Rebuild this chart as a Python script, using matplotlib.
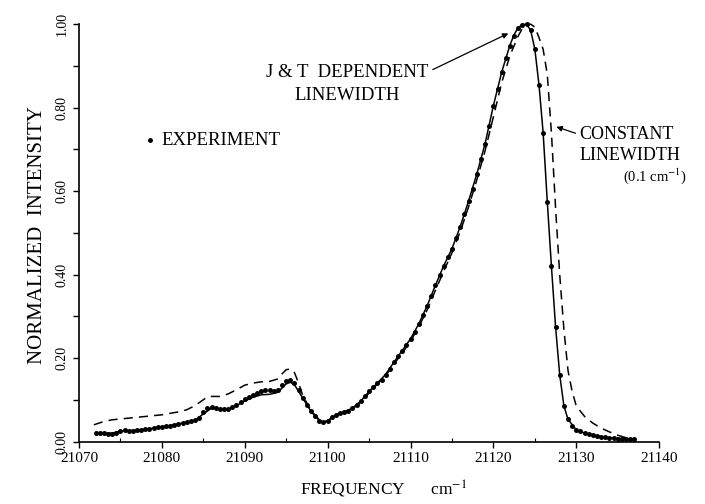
import numpy as np
import matplotlib
matplotlib.use("Agg")
import matplotlib.pyplot as plt
from matplotlib.ticker import MultipleLocator

plt.rcParams['font.family'] = ['Liberation Serif', 'DejaVu Serif']
plt.rcParams['mathtext.fontset'] = 'stix'

# --------------------
# data
# --------------------
# experiment, sampled every 0.5 cm-1
exp_freq = np.arange(21072.0, 21137.5, 0.5)
exp_int = [
    0.020, 0.020, 0.020, 0.019, 0.019, 0.021, 0.026, 0.027, 0.026, 0.026,
    0.027, 0.028, 0.029, 0.031, 0.032, 0.034, 0.035, 0.036, 0.037, 0.040,
    0.042, 0.044, 0.046, 0.049, 0.051, 0.056, 0.070, 0.081, 0.082, 0.080,
    0.079, 0.077, 0.078, 0.082, 0.088, 0.094, 0.101, 0.107, 0.112, 0.117,
    0.121, 0.124, 0.123, 0.121, 0.124, 0.136, 0.146, 0.148, 0.140, 0.124,
    0.104, 0.087, 0.072, 0.060, 0.050, 0.046, 0.049, 0.058, 0.064, 0.068,
    0.071, 0.074, 0.080, 0.088, 0.097, 0.108, 0.120, 0.131, 0.139, 0.148,
    0.160, 0.174, 0.190, 0.204, 0.218, 0.232, 0.246, 0.263, 0.282, 0.303,
    0.325, 0.349, 0.374, 0.398, 0.421, 0.441, 0.462, 0.488, 0.515, 0.545,
    0.576, 0.605, 0.641, 0.676, 0.714, 0.755, 0.805, 0.845, 0.885, 0.918,
    0.948, 0.972, 0.990, 0.998, 1.000, 0.985, 0.940, 0.855, 0.740, 0.575,
    0.420, 0.275, 0.160, 0.086, 0.053, 0.038, 0.028, 0.024, 0.020, 0.017,
    0.015, 0.013, 0.011, 0.010, 0.009, 0.008, 0.007, 0.006, 0.006, 0.005,
    0.005,
]

# J & T dependent linewidth (solid)
jt_freq = [21072, 21074, 21075, 21076, 21078, 21080, 21082, 21084, 21085, 21086,
           21087, 21088, 21089, 21090, 21091, 21092, 21093, 21094, 21095, 21095.5,
           21096, 21097, 21098, 21099, 21099.5, 21100, 21101, 21102, 21103, 21104,
           21105, 21106, 21107, 21108, 21109, 21110, 21111, 21112, 21113, 21114,
           21115, 21116, 21117, 21118, 21119, 21120, 21121, 21122, 21122.5, 21123,
           21123.5, 21124, 21124.5, 21125, 21125.5, 21126, 21126.5, 21127, 21127.5, 21128,
           21128.5, 21129, 21130, 21131, 21132, 21134, 21137]
jt_int = [0.020, 0.020, 0.025, 0.026, 0.029, 0.035, 0.042, 0.051, 0.066, 0.080,
          0.078, 0.077, 0.086, 0.097, 0.106, 0.112, 0.113, 0.118, 0.138, 0.142,
          0.136, 0.104, 0.072, 0.050, 0.046, 0.049, 0.064, 0.071, 0.080, 0.097,
          0.120, 0.140, 0.161, 0.190, 0.218, 0.246, 0.282, 0.325, 0.374, 0.421,
          0.462, 0.515, 0.576, 0.641, 0.714, 0.805, 0.885, 0.950, 0.975, 0.992,
          0.999, 1.000, 0.985, 0.940, 0.855, 0.740, 0.575, 0.420, 0.275, 0.160,
          0.086, 0.053, 0.028, 0.020, 0.015, 0.009, 0.005]

# constant linewidth (dashed)
cl_freq = [21071.8, 21073, 21074, 21076, 21078, 21080, 21082, 21083, 21084, 21085,
           21085.5, 21086, 21087, 21088, 21089, 21090, 21091, 21092, 21093, 21094,
           21094.5, 21095, 21095.5, 21096, 21096.5, 21097, 21098, 21099, 21099.5, 21100,
           21101, 21102, 21103, 21104, 21105, 21106, 21107, 21108, 21109, 21110,
           21111, 21112, 21113, 21114, 21115, 21116, 21117, 21118, 21119, 21120,
           21121, 21122, 21123, 21123.5, 21124, 21124.5, 21125, 21125.5, 21126, 21126.5,
           21127, 21127.5, 21128, 21128.5, 21129, 21129.5, 21130, 21131, 21132, 21133,
           21134, 21135, 21136, 21137]
cl_int = [0.040, 0.048, 0.052, 0.056, 0.060, 0.064, 0.071, 0.076, 0.086, 0.100,
          0.107, 0.108, 0.108, 0.114, 0.124, 0.135, 0.140, 0.143, 0.144, 0.150,
          0.162, 0.172, 0.174, 0.165, 0.140, 0.110, 0.074, 0.052, 0.047, 0.050,
          0.063, 0.070, 0.078, 0.094, 0.116, 0.138, 0.158, 0.185, 0.212, 0.240,
          0.275, 0.315, 0.362, 0.408, 0.452, 0.503, 0.562, 0.627, 0.697, 0.778,
          0.860, 0.925, 0.972, 0.990, 0.998, 1.000, 0.993, 0.968, 0.940, 0.880,
          0.740, 0.560, 0.400, 0.270, 0.170, 0.120, 0.085, 0.060, 0.044, 0.032,
          0.023, 0.015, 0.009, 0.006]

x_ticks = [21070, 21080, 21090, 21100, 21110, 21120, 21130, 21140]
y_ticks = [0.0, 0.2, 0.4, 0.6, 0.8, 1.0]

# --------------------
# draw
# --------------------
fig = plt.figure(figsize=(7.05, 5.04), dpi=100)
ax = fig.add_axes([0.112, 0.124, 0.823, 0.828])

ax.plot(jt_freq, jt_int, color='black', lw=1.1, clip_on=False)
ax.plot(cl_freq, cl_int, color='black', lw=1.1, dashes=(6, 4), clip_on=False)
ax.plot(exp_freq, exp_int, 'o', color='black', ms=3.6, mew=0, clip_on=False)

ax.set_xlim(21070, 21140)
ax.set_ylim(0, 1.0)
ax.set_xticks(x_ticks)
ax.set_yticks(y_ticks)
ax.set_yticklabels([f'{v:.2f}' for v in y_ticks], rotation=90, va='center')
ax.xaxis.set_minor_locator(MultipleLocator(5))
ax.yaxis.set_minor_locator(MultipleLocator(0.1))
ax.tick_params(axis='x', which='major', labelsize=11, length=4, width=1, direction='out')
ax.tick_params(axis='x', which='minor', length=3, width=0.8, direction='in')
ax.tick_params(axis='y', which='both', labelsize=10, length=4, width=1, direction='out')

for s in ['top', 'right']:
    ax.spines[s].set_visible(False)
for s in ['left', 'bottom']:
    ax.spines[s].set_linewidth(1.2)

# axis titles placed where the original has them
fig.text(38 / 705, 1 - 235 / 504, 'NORMALIZED  INTENSITY', rotation=90,
         ha='center', va='center', fontsize=15)
fig.text(384 / 705, 1 - 489 / 504, 'FREQUENCY      cm$^{-1}$',
         ha='center', va='center', fontsize=12.5)

# annotations
ax.annotate('J & T  DEPENDENT\nLINEWIDTH', xy=(21121.8, 0.978), xytext=(21102.4, 0.856),
            ha='center', va='center', fontsize=13.5, linespacing=1.45,
            arrowprops=dict(arrowstyle='-|>', color='black', lw=0.9,
                            shrinkA=1, shrinkB=0, mutation_scale=8,
                            relpos=(1.0, 0.82)))
ax.annotate('CONSTANT\nLINEWIDTH', xy=(21127.6, 0.754), xytext=(21130.4, 0.71),
            ha='left', va='center', fontsize=13, linespacing=1.3,
            arrowprops=dict(arrowstyle='-|>', color='black', lw=0.9,
                            shrinkA=1, shrinkB=0, mutation_scale=8,
                            relpos=(0.0, 0.78)))
ax.text(21143.3, 0.635, '(0.1 cm$^{-1}$)', ha='right', va='center', fontsize=10.5)
ax.plot([21078.6], [0.722], 'o', color='black', ms=2.5)
ax.text(21080.0, 0.722, 'EXPERIMENT', ha='left', va='center', fontsize=13.5)

fig.savefig('out.png', dpi=100)
